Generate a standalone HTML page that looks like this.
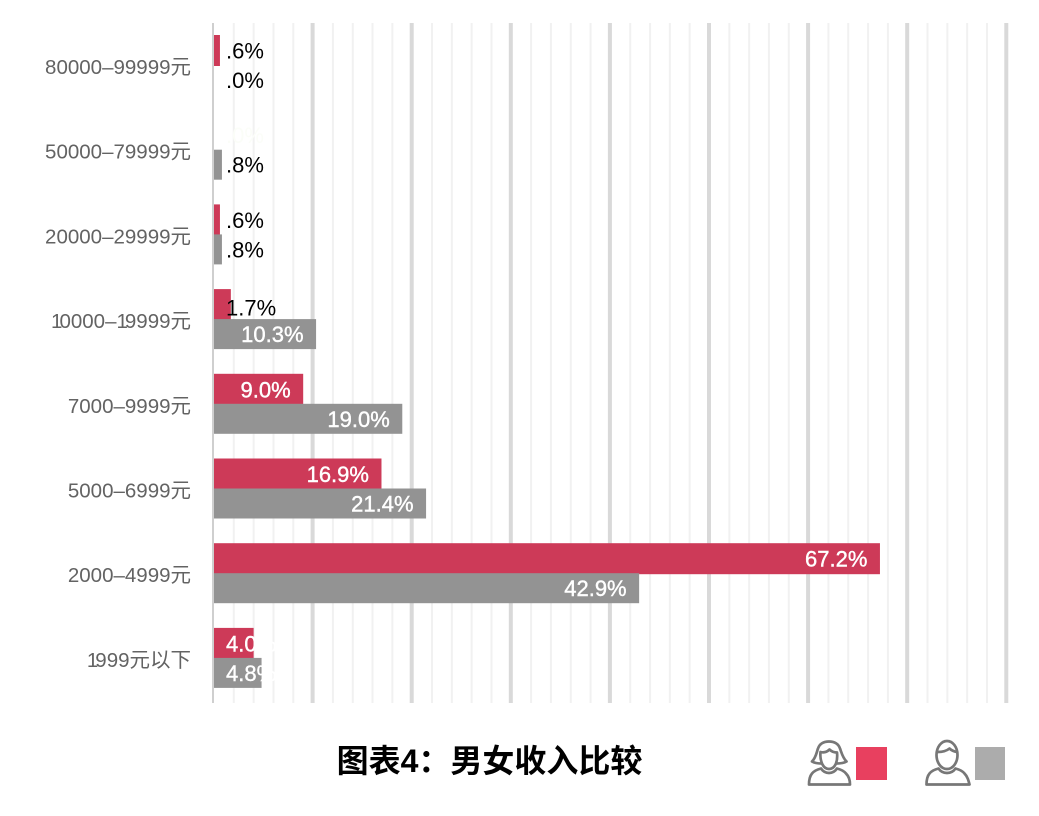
<!DOCTYPE html>
<html lang="zh">
<head>
<meta charset="utf-8">
<title>图表4：男女收入比较</title>
<style>
html,body{margin:0;padding:0;background:#fff;width:1039px;height:816px;overflow:hidden}
svg{display:block}
.cat{font-family:"Liberation Sans","Noto Sans CJK SC",sans-serif;font-size:20.5px;fill:#636363}
.val{font-family:"Liberation Sans",sans-serif;font-size:22px;stroke-width:.4px}
.title{font-family:"Liberation Sans","Noto Sans CJK SC",sans-serif;font-size:32px;font-weight:700;fill:#000}
</style>
</head>
<body>
<svg id="chart" width="1039" height="816" viewBox="0 0 1039 816" xmlns="http://www.w3.org/2000/svg">
  <g id="grid"></g>
  <g id="bars"></g>
  <g id="cats"></g>
  <g id="labels"></g>
  <text class="title" x="489.5" y="772" text-anchor="middle">图表4：男女收入比较</text>
  <g>
    <g fill="none" stroke="#777" stroke-width="2.700" stroke-linejoin="round" stroke-linecap="round">
      <path d="M809 784.500c0-4 .5-8 3-11 2-2.500 5-4 9-5 2 3 5 4.500 8 4.500s6-1.500 8-4.500c4 1 7 2.500 9 5 3 3 4 7 4 11z"/>
      <path d="M821.500 763.500c-3.500 0-7-.5-9.500-2 4-4 4.500-9 6-13 1.500-4.500 5.500-7 11-7s9.500 2.500 11 7c1.500 4 2.500 9 6.500 13-2.500 1.500-6 2-10 2"/>
      <path d="M820.500 752c4 1 7-.5 9-2.500 2 2 4.500 3 7.500 3 .5 5 0 9-1.500 12-1.500 3-4 4.500-6.500 4.500s-5-1.500-6.500-4.500c-1.500-3-2.500-7.500-2-12.500z"/>
    </g>
    <rect x="856" y="747" width="31" height="33" fill="#e8405f"/>
  </g>
  <g>
    <g fill="none" stroke="#777" stroke-width="2.700" stroke-linejoin="round" stroke-linecap="round">
      <path d="M926.500 784.500c0-4 .5-8 3-11 2-2.500 5-4 9-5 2 3 5 4.500 8.500 4.500s6.500-1.500 8.500-4.500c4 1 7 2.500 9 5 3 3 4 7 5 11z"/>
      <ellipse cx="947" cy="755" rx="10.500" ry="14"/>
      <path d="M937.500 752c4.500 0 9-1 12-3.500 2 2 5 3 7.500 3.500"/>
    </g>
    <rect x="975" y="747" width="30" height="33" fill="#acacac"/>
  </g>
</svg>
<script>
const categories = ["80000–99999元","50000–79999元","20000–29999元","10000–19999元","7000–9999元","5000–6999元","2000–4999元","1999元以下"];
const femaleValues = [0.6,0,0.6,1.7,9.0,16.9,67.2,4.0];
const maleValues = [0,0.8,0.8,10.3,19.0,21.4,42.9,4.8];
const femaleLabels = [".6%",".0%",".6%","1.7%","9.0%","16.9%","67.2%","4.0%"];
const maleLabels = [".0%",".8%",".8%","10.3%","19.0%","21.4%","42.9%","4.8%"];
const gridTicks = [0,2,4,6,8,10,12,14,16,18,20,22,24,26,28,30,32,34,36,38,40,42,44,46,48,50,52,54,56,58,60,62,64,66,68,70,72,74,76,78,80];

const NS = "http://www.w3.org/2000/svg";
function xScale(v){ return 214 + v * 9.91; }
function yBand(i){ return 66 + i * 84.7; }

function mk(tag, parent, attrs){
  const el = document.createElementNS(NS, tag);
  for (const k in attrs) el.setAttribute(k, attrs[k]);
  parent.appendChild(el);
  return el;
}

const gridG = document.getElementById("grid");
gridTicks.forEach(function(t){
  const major = t % 10 === 0 && t !== 0;
  const zero = t === 0;
  const px = zero ? 213 : xScale(t) - (major ? 0.5 : 0);
  const line = mk("line", gridG, {
    x1: px, x2: px, y1: 23, y2: 703,
    stroke: zero ? "#cfcfcf" : (major ? "#d9d9d9" : "#f1f1f1"),
    "stroke-width": zero ? 2 : (major ? 4 : 2)
  });
  
  
});

const barsG = document.getElementById("bars");
const catsG = document.getElementById("cats");
const labelsG = document.getElementById("labels");

function labelFill(isFemale, v){
  if (isFemale && v === 0) return "#fbfdf8";
  return v < 2 ? "#000" : "#fff";
}

function drawSeries(values, labels, isFemale){
  values.forEach(function(v, i){
    const top = isFemale ? yBand(i) - 31 : yBand(i) - 1;
    const h = isFemale ? 31 : 30;
    const end = xScale(v);
    const bar = mk("rect", barsG, {
      x: 214, y: top, width: Math.max(0, end - 214), height: h,
      fill: isFemale ? "#cd3a58" : "#939393"
    });
    
    

    const inside = v >= 8;
    const fill = labelFill(isFemale, v);
    const shift = (v > 1 && v < 2) ? 3 : 0;
    const txt = mk("text", labelsG, {
      "class": "val",
      x: inside ? end - 12.500 : 226,
      y: top + h / 2 + 8 + shift,
      "text-anchor": inside ? "end" : "start",
      fill: fill,
      stroke: fill === "#fff" ? "#fff" : "none"
    });
    txt.textContent = labels[i];
    
    
  });
}

drawSeries(femaleValues, femaleLabels, true);
drawSeries(maleValues, maleLabels, false);

categories.forEach(function(c, i){
  const t = mk("text", catsG, {
    "class": "cat", x: 191, y: yBand(i) + 8, "text-anchor": "end"
  });
  // The reference face draws a narrower "1", so each one is tightened.
  c.split("").forEach(function(ch){
    const s = mk("tspan", t, ch === "1" ? {"letter-spacing": "-3px"} : {});
    s.textContent = ch;
  });
  
  
});
</script>
</body>
</html>
